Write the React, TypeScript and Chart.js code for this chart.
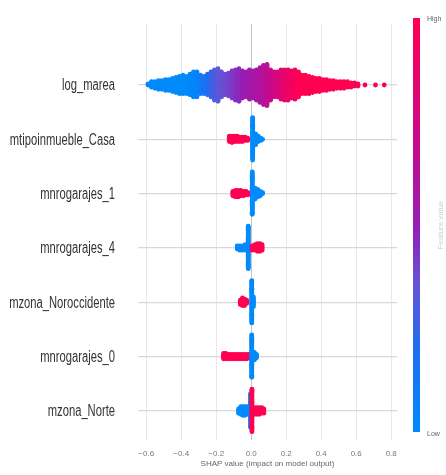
import { useEffect, useRef } from 'react';
import { Chart, registerables } from 'chart.js';

Chart.register(...registerables);

const FEATURES = [
  'log_marea',
  'mtipoinmueble_Casa',
  'mnrogarajes_1',
  'mnrogarajes_4',
  'mzona_Noroccidente',
  'mnrogarajes_0',
  'mzona_Norte',
];

const X_TICKS = [-0.6, -0.4, -0.2, 0, 0.2, 0.4, 0.6, 0.8];

// log_marea: SHAP bin centres, number of dots in bin, feature value (0 low .. 1 high)
const LOG_MAREA_SHAP = [
  -0.59, -0.57, -0.55, -0.53, -0.51, -0.49, -0.47, -0.45, -0.43, -0.41,
  -0.39, -0.37, -0.35, -0.33, -0.31, -0.29, -0.27, -0.25, -0.23, -0.21,
  -0.19, -0.17, -0.15, -0.13, -0.11, -0.09, -0.07, -0.05, -0.03, -0.01,
  0.01, 0.03, 0.05, 0.07, 0.09, 0.11, 0.13, 0.15, 0.17, 0.19,
  0.21, 0.23, 0.25, 0.27, 0.29, 0.31, 0.33, 0.35, 0.37, 0.39,
  0.41, 0.43, 0.45, 0.47, 0.49, 0.51, 0.53, 0.55, 0.57, 0.59,
  0.61, 0.65, 0.71, 0.76,
];
const LOG_MAREA_COUNT = [
  2, 6, 7, 9, 9, 11, 11, 13, 15, 17,
  18, 17, 20, 24, 24, 18, 17, 20, 24, 29,
  31, 24, 20, 22, 26, 29, 31, 26, 24, 28,
  26, 29, 33, 37, 39, 29, 24, 24, 28, 29,
  29, 26, 28, 24, 18, 18, 17, 15, 13, 13,
  11, 11, 9, 9, 7, 7, 7, 6, 5, 4,
  3, 1, 1, 1,
];
const LOG_MAREA_FV = [
  0, 0, 0, 0, 0, 0, 0, 0, 0, 0,
  0, 0, 0.01, 0.02, 0.04, 0.1, 0.15, 0.2, 0.25, 0.3,
  0.33, 0.36, 0.38, 0.4, 0.42, 0.45, 0.47, 0.5, 0.52, 0.54,
  0.56, 0.58, 0.6, 0.63, 0.66, 0.7, 0.74, 0.78, 0.82, 0.86,
  0.9, 0.93, 0.96, 1, 1, 1, 1, 1, 1, 1,
  1, 1, 1, 1, 1, 1, 1, 1, 1, 1,
  1, 1, 1, 1,
];

const CASA_SHAP = [-0.125, -0.11, -0.095, -0.08, -0.065, -0.05, -0.035, -0.02, 0.008, 0.025, 0.04, 0.055, 0.065];
const CASA_COUNT = [6, 7, 6, 6, 5, 5, 4, 3, 40, 11, 6, 3, 1];
const CASA_FV = [1, 1, 1, 1, 1, 1, 1, 1, 0, 0, 0, 0, 0];

const GAR1_SHAP = [-0.105, -0.09, -0.075, -0.06, -0.045, -0.03, -0.018, 0.006, 0.022, 0.037, 0.052, 0.065];
const GAR1_COUNT = [5, 7, 7, 6, 5, 4, 3, 40, 11, 8, 5, 2];
const GAR1_FV = [1, 1, 1, 1, 1, 1, 1, 0, 0, 0, 0, 0];

const GAR4_SHAP = [-0.08, -0.065, -0.05, -0.035, -0.017, 0.005, 0.02, 0.035, 0.05, 0.062];
const GAR4_COUNT = [4, 5, 5, 6, 40, 5, 6, 8, 8, 6];
const GAR4_FV = [0, 0, 0, 0, 0, 1, 1, 1, 1, 1];

const NOROC_SHAP = [-0.062, -0.05, -0.038, -0.026, 0.003, 0.012];
const NOROC_COUNT = [5, 8, 7, 4, 40, 10];
const NOROC_FV = [1, 1, 1, 1, 0, 0];

const GAR0_SHAP = [-0.158, -0.145, -0.13, -0.115, -0.1, -0.085, -0.07, -0.055, -0.04, -0.025, -0.012, 0.003, 0.018, 0.03];
const GAR0_COUNT = [6, 6, 5, 5, 5, 5, 5, 5, 5, 5, 4, 40, 8, 4];
const GAR0_FV = [1, 1, 1, 1, 1, 1, 1, 1, 1, 1, 1, 0, 0, 0];

const NORTE_SHAP = [-0.072, -0.06, -0.048, -0.036, -0.024, -0.012, -0.004, 0.004, 0.018, 0.032, 0.046, 0.06, 0.072];
const NORTE_COUNT = [5, 8, 9, 9, 8, 7, 32, 40, 7, 7, 7, 6, 5];
const NORTE_FV = [0, 0, 0, 0, 0, 0, 0, 1, 1, 1, 1, 1, 1];

const ROWS = [
  { shap: LOG_MAREA_SHAP, count: LOG_MAREA_COUNT, fv: LOG_MAREA_FV },
  { shap: CASA_SHAP, count: CASA_COUNT, fv: CASA_FV },
  { shap: GAR1_SHAP, count: GAR1_COUNT, fv: GAR1_FV },
  { shap: GAR4_SHAP, count: GAR4_COUNT, fv: GAR4_FV },
  { shap: NOROC_SHAP, count: NOROC_COUNT, fv: NOROC_FV },
  { shap: GAR0_SHAP, count: GAR0_COUNT, fv: GAR0_FV },
  { shap: NORTE_SHAP, count: NORTE_COUNT, fv: NORTE_FV },
];

const CMAP_STOPS: number[][] = [
  [0, 0, 138, 251],
  [0.2, 30, 110, 240],
  [0.35, 100, 85, 215],
  [0.5, 150, 30, 180],
  [0.7, 200, 10, 140],
  [1, 255, 0, 82],
];

function cmap(t: number): string {
  for (let i = 1; i < CMAP_STOPS.length; i++) {
    const a = CMAP_STOPS[i - 1];
    const b = CMAP_STOPS[i];
    if (t <= b[0]) {
      const f = (t - a[0]) / (b[0] - a[0]);
      const r = Math.round(a[1] + (b[1] - a[1]) * f);
      const g = Math.round(a[2] + (b[2] - a[2]) * f);
      const bl = Math.round(a[3] + (b[3] - a[3]) * f);
      return `rgb(${r},${g},${bl})`;
    }
  }
  const l = CMAP_STOPS[CMAP_STOPS.length - 1];
  return `rgb(${l[1]},${l[2]},${l[3]})`;
}

const SPACING = 0.4 / 20; // vertical step between stacked dots (row units)

const LABEL_FONT = '16px "Liberation Sans", Arial, sans-serif';
const LABEL_SQUEEZE = 0.7;

const yLabelPlugin = {
  id: 'ylabels',
  afterDraw(chart: any) {
    const ctx = chart.ctx as CanvasRenderingContext2D;
    const ys = chart.scales.y;
    const right = chart.chartArea.left - 23;
    ctx.save();
    ctx.font = LABEL_FONT;
    ctx.fillStyle = '#333';
    ctx.textAlign = 'right';
    ctx.textBaseline = 'middle';
    FEATURES.forEach((f, i) => {
      const y = ys.getPixelForValue(i);
      ctx.save();
      ctx.translate(right, y + 1);
      ctx.scale(LABEL_SQUEEZE, 1);
      ctx.fillText(f, 0, 0);
      ctx.restore();
    });
    ctx.restore();
  },
};

const colorbarPlugin = {
  id: 'colorbar',
  afterDraw(chart: any) {
    const ctx = chart.ctx as CanvasRenderingContext2D;
    const top = 18;
    const bottom = 432;
    const g = ctx.createLinearGradient(0, bottom, 0, top);
    CMAP_STOPS.forEach((s) => g.addColorStop(s[0], `rgb(${s[1]},${s[2]},${s[3]})`));
    ctx.save();
    ctx.fillStyle = g;
    ctx.fillRect(413, top, 7, bottom - top);
    ctx.fillStyle = '#666';
    ctx.font = '7px "Liberation Sans", Arial, sans-serif';
    ctx.textBaseline = 'middle';
    ctx.textAlign = 'left';
    ctx.fillText('High', 427, top + 1);
    ctx.fillText('Low', 427, bottom + 2);
    ctx.translate(441, 225);
    ctx.rotate(-Math.PI / 2);
    ctx.textAlign = 'center';
    ctx.fillStyle = '#d0d0d0';
    ctx.font = '8px "Liberation Sans", Arial, sans-serif';
    ctx.fillText('Feature value', 0, 0);
    ctx.restore();
  },
};

export default function App() {
  const ref = useRef<HTMLCanvasElement>(null);

  useEffect(() => {
    document.body.style.margin = '0';
    if (!ref.current) return;

    const datasets = ROWS.map((row, r) => {
      const data: { x: number; y: number }[] = [];
      const colors: string[] = [];
      row.shap.forEach((v, i) => {
        const n = row.count[i];
        for (let k = 0; k < n; k++) {
          const layer = (k + 1) >> 1;
          const sign = k % 2 === 1 ? -1 : 1;
          data.push({ x: v, y: r + sign * layer * SPACING });
          colors.push(cmap(row.fv[i]));
        }
      });
      return {
        label: FEATURES[r],
        data,
        backgroundColor: colors,
        borderWidth: 0,
        pointRadius: 2.4,
        pointHoverRadius: 2.4,
        pointBorderWidth: 0,
      };
    });

    const chart = new Chart(ref.current, {
      type: 'scatter',
      data: { datasets },
      options: {
        animation: false,
        responsive: false,
        events: [],
        layout: { padding: { left: 0, right: 49, top: 24, bottom: 0 } },
        plugins: { legend: { display: false }, tooltip: { enabled: false } },
        scales: {
          x: {
            type: 'linear',
            min: -0.647,
            max: 0.833,
            afterBuildTicks: (scale: any) => {
              scale.ticks = X_TICKS.map((v) => ({ value: v }));
            },
            afterFit: (scale: any) => {
              scale.height = 35;
            },
            grid: {
              color: (c: any) => (c.tick && c.tick.value === 0 ? '#c4c4c4' : '#e8e8e8'),
              lineWidth: 1,
              drawTicks: false,
            },
            border: { display: false },
            ticks: {
              padding: 9,
              color: '#777',
              font: { size: 8, family: '"Liberation Sans", Arial, sans-serif' },
              callback: (v: any) => {
                const n = Number(v);
                if (Math.abs(n) < 1e-9) return '0.0';
                return n < 0 ? '\u2212' + Math.abs(n).toFixed(1) : n.toFixed(1);
              },
            },
            title: {
              display: true,
              text: 'SHAP value (impact on model output)',
              color: '#666',
              font: { size: 8, family: '"Liberation Sans", Arial, sans-serif' },
              padding: { top: 0, bottom: 6 },
            },
          },
          y: {
            type: 'linear',
            reverse: true,
            min: -1.123,
            max: 6.534,
            afterBuildTicks: (scale: any) => {
              scale.ticks = FEATURES.map((_, i) => ({ value: i }));
            },
            afterFit: (scale: any) => {
              scale.width = 138;
            },
            grid: { color: '#d8d8d8', lineWidth: 1.2, drawTicks: false },
            border: { display: false },
            ticks: { display: false },
          },
        },
      },
      plugins: [yLabelPlugin, colorbarPlugin],
    });

    return () => chart.destroy();
  }, []);

  return (
    <div style={{ position: 'absolute', left: 0, top: 0, width: 446, height: 475 }}>
      <canvas ref={ref} width={446} height={475} style={{ width: 446, height: 475 }} />
    </div>
  );
}
